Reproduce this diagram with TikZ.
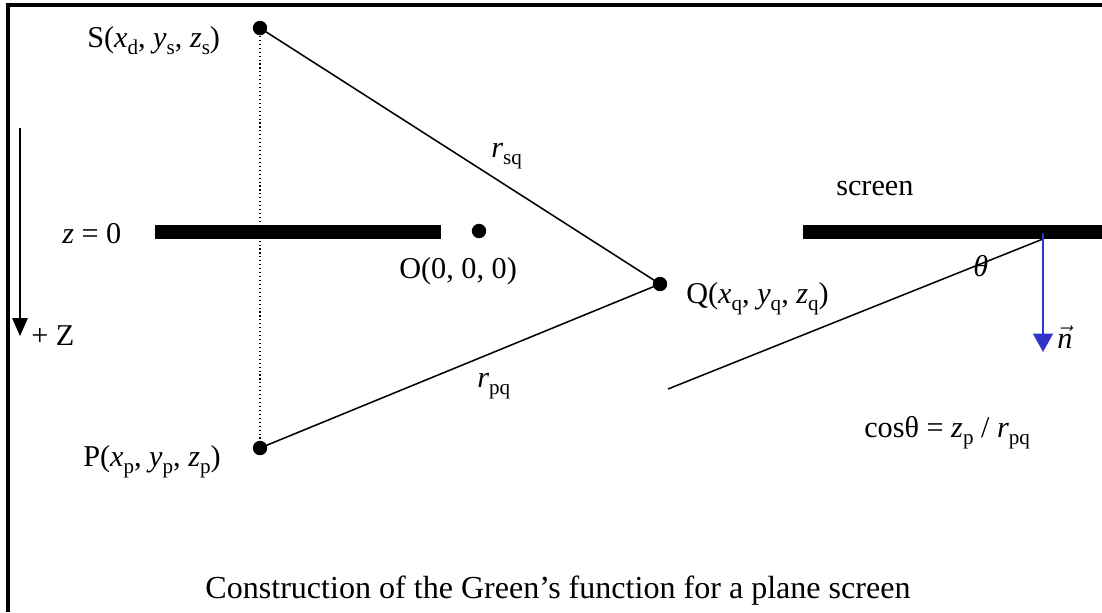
\documentclass[tikz,border=0pt]{standalone}
\usepackage{fontspec}
\setmainfont{Liberation Serif}
\usepackage{tikz}
\usetikzlibrary{arrows.meta, positioning}
\definecolor{normalblue}{RGB}{51, 51, 204}
\newcommand{\subs}[1]{\raisebox{-0.55ex}{\fontsize{15}{15}\selectfont #1}}

\begin{document}
\begin{tikzpicture}[x=0.025cm, y=-0.025cm,
    dot/.style={circle, fill=black, inner sep=0pt, minimum size=0.36cm},
    lbl/.style={inner sep=0pt, anchor=base west, font=\fontsize{21.5}{25}\selectfont},
    ray/.style={line width=1.1pt}]
  \useasboundingbox (0,0) rectangle (1102,612);
  \draw[line width=2.2pt] (8,612) -- (8,5) -- (1102,5);

  % screen
  \fill (155,225) rectangle (441,239);
  \fill (803,225) rectangle (1102,239);

  % points
  \node[dot] (S) at (260,28) {};
  \node[dot] (P) at (260,448) {};
  \node[dot] (Q) at (660,284) {};
  \node[dot] (O) at (479,231) {};

  \draw[dotted, line width=0.8pt] (S.center) -- (P.center);
  \draw[ray] (S.center) -- (Q.center);
  \draw[ray] (P.center) -- (Q.center);

  \coordinate (raystart) at (668,389);
  \coordinate (hit) at (1043,239);
  \draw[ray] (raystart) -- (hit);

  \coordinate (ntop) at (1043,233);
  \coordinate (nend) at (1043,352);
  \draw[normalblue, line width=1.4pt, -{Triangle[length=13pt, width=14pt]}] (ntop) -- (nend);

  \coordinate (ztop) at (20,128);
  \coordinate (zend) at (20,336);
  \draw[line width=1.1pt, -{Triangle[length=12.8pt, width=11pt]}] (ztop) -- (zend);

  \node[lbl] (Slbl) at (87,47) {S(\textit{x}\subs{d}, \textit{y}\subs{s}, \textit{z}\subs{s})};
  \node[lbl] (zlbl) at (62,243) {\textit{z} = 0};
  \node[lbl] (Zlbl) at (31,345) {+ Z};
  \node[lbl] (Plbl) at (83,466) {P(\textit{x}\subs{p}, \textit{y}\subs{p}, \textit{z}\subs{p})};
  \node[lbl] (Olbl) at (399,278) {O(0, 0, 0)};
  \node[lbl] (rsq) at (491,157) {\textit{r}\subs{sq}};
  \node[lbl] (rpq) at (477,387) {\textit{r}\subs{pq}};
  \node[lbl] (Qlbl) at (686,303) {Q(\textit{x}\subs{q}, \textit{y}\subs{q}, \textit{z}\subs{q})};
  \node[lbl] (scr) at (836,195) {screen};
  \node[lbl] (theta) at (973,276) {\textit{θ}};
  \node[lbl] (nlbl) at (1057,348) {$\vec{\textit{n}}$};
  \node[lbl] (cos) at (864,437) {cosθ = \textit{z}\subs{p} / \textit{r}\subs{pq}};
  \node[lbl, anchor=base, font=\fontsize{22.8}{27}\selectfont] (caption) at (558,598) {Construction of the Green’s function for a plane screen};
\end{tikzpicture}
\end{document}
